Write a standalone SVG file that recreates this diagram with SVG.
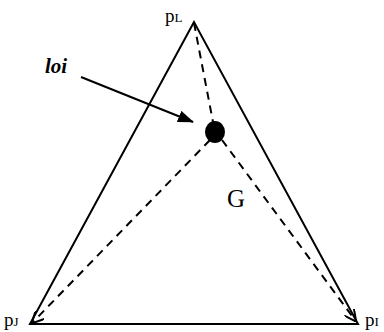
<svg xmlns="http://www.w3.org/2000/svg" width="384" height="332" viewBox="0 0 384 332">
<style>
.t{font-family:"Liberation Serif","Times New Roman",serif;fill:#000}
.s{stroke:#000;stroke-width:2;fill:none}
.d{stroke:#000;stroke-width:2;fill:none;stroke-dasharray:8 6}
</style>
<defs>
<marker id="big" markerWidth="16" markerHeight="12" refX="15" refY="6" orient="auto" markerUnits="userSpaceOnUse" viewBox="0 0 16 12"><path d="M0,0 L16,6 L0,12 z" fill="#000"/></marker>
<marker id="sm" markerWidth="6" markerHeight="6" refX="5" refY="3" orient="auto" viewBox="0 0 6 6"><path d="M0,0 L6,3 L0,6" fill="none" stroke="#000" stroke-width="1"/></marker>
</defs>
<rect width="384" height="332" fill="#fff"/>
<g id="connectors">
<path class="d" d="M194,23 L213,122"/>
<path class="d" d="M210,140 L33,322" marker-end="url(#sm)"/>
<path class="d" d="M222,140 L355,320" marker-end="url(#sm)"/>
<path class="s" d="M81,77 L193,122" marker-end="url(#big)"/>
</g>
<g id="triangle">
<path class="s" d="M194,22 L30,324 L358,324 Z" stroke-linejoin="miter"/>
</g>
<g id="dot"><ellipse cx="215" cy="132" rx="10" ry="11" fill="#000"/></g>
<g id="pL"><text class="t" x="165" y="22" font-size="19">p<tspan font-size="13">L</tspan></text></g>
<g id="pJ"><text class="t" x="4" y="326" font-size="19">p<tspan font-size="13">J</tspan></text></g>
<g id="pI"><text class="t" x="365" y="326" font-size="19">p<tspan font-size="13">I</tspan></text></g>
<g id="loi"><text class="t" x="45" y="73" font-size="21" font-weight="bold" font-style="italic">loi</text></g>
<g id="G"><text class="t" x="227" y="207" font-size="25">G</text></g>
</svg>
